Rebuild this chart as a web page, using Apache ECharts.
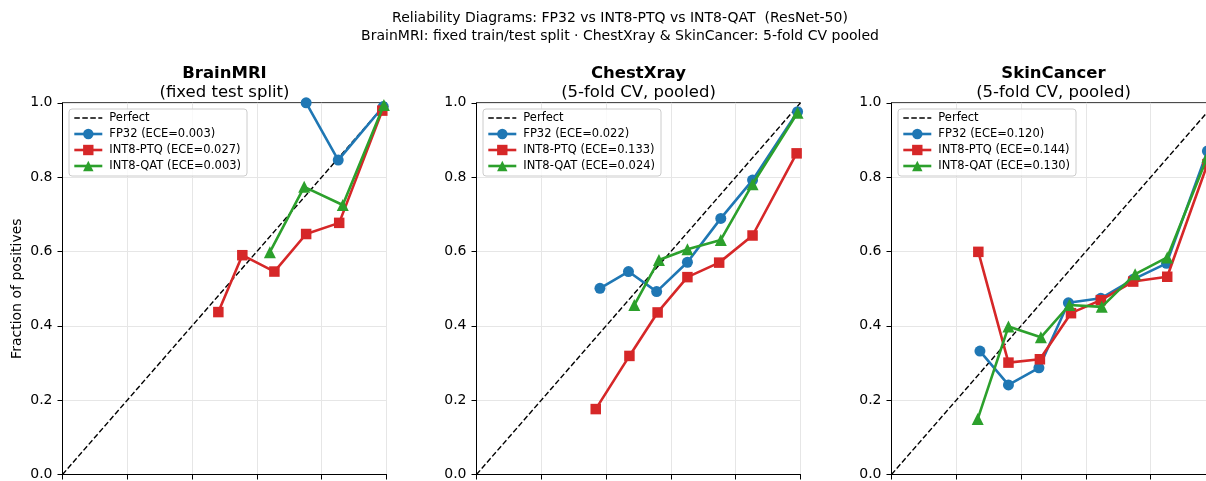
<!DOCTYPE html>
<html><head><meta charset="utf-8">
<script src="https://cdn.jsdelivr.net/npm/echarts@6/dist/echarts.min.js"></script>
<style>html,body{margin:0;padding:0;background:#fff}#c{width:1206px;height:481px}</style>
</head><body><div id="c"></div>
<script>
// ---- data ----
const panelNames = ['BrainMRI', 'ChestXray', 'SkinCancer'];
const panelSubtitles = ['(fixed test split)', '(5-fold CV, pooled)', '(5-fold CV, pooled)'];
const eceFP32 = ['0.003', '0.022', '0.120'];
const ecePTQ = ['0.027', '0.133', '0.144'];
const eceQAT = ['0.003', '0.024', '0.130'];
const perfect = [[0, 0], [1, 1]];
const axisTicks = [0, 0.2, 0.4, 0.6, 0.8, 1.0];

const brainFP32 = [[0.752, 1.000], [0.851, 0.846], [0.990, 0.990]];
const brainPTQ  = [[0.481, 0.437], [0.555, 0.590], [0.654, 0.546], [0.752, 0.647], [0.854, 0.677], [0.987, 0.979]];
const brainQAT  = [[0.640, 0.598], [0.746, 0.774], [0.865, 0.725], [0.992, 0.994]];

const chestFP32 = [[0.381, 0.501], [0.469, 0.546], [0.556, 0.492], [0.651, 0.571], [0.754, 0.689], [0.852, 0.792], [0.991, 0.976]];
const chestPTQ  = [[0.368, 0.176], [0.472, 0.319], [0.559, 0.436], [0.651, 0.531], [0.749, 0.570], [0.852, 0.643], [0.988, 0.864]];
const chestQAT  = [[0.487, 0.456], [0.563, 0.577], [0.651, 0.606], [0.754, 0.631], [0.852, 0.781], [0.991, 0.973]];

const skinFP32 = [[0.273, 0.332], [0.361, 0.241], [0.455, 0.287], [0.546, 0.462], [0.646, 0.474], [0.746, 0.525], [0.849, 0.568], [0.975, 0.870]];
const skinPTQ  = [[0.268, 0.599], [0.361, 0.301], [0.458, 0.310], [0.554, 0.434], [0.646, 0.469], [0.746, 0.519], [0.851, 0.532], [0.975, 0.835]];
const skinQAT  = [[0.266, 0.149], [0.361, 0.398], [0.461, 0.369], [0.549, 0.456], [0.649, 0.451], [0.752, 0.539], [0.851, 0.584], [0.975, 0.855]];

const fp32Data = [brainFP32, chestFP32, skinFP32];
const ptqData = [brainPTQ, chestPTQ, skinPTQ];
const qatData = [brainQAT, chestQAT, skinQAT];

// ---- layout / style ----
const FONT = 'DejaVu Sans';
const gridLefts = [62.5, 476.5, 891.5];
const GW = 324, GT = 102.8, GH = 371.7;
const C_BLUE = '#1f77b4', C_RED = '#d62728', C_GREEN = '#2ca02c';
const LW = 2.6;

const chart = echarts.init(document.getElementById('c'), null, {renderer: 'canvas'});

const titles = [{
  text: 'Reliability Diagrams: FP32 vs INT8-PTQ vs INT8-QAT  (ResNet-50)\nBrainMRI: fixed train/test split \u00b7 ChestXray & SkinCancer: 5-fold CV pooled',
  left: 620, top: 9, textAlign: 'center', padding: 0,
  textStyle: {fontFamily: FONT, fontSize: 14, fontWeight: 'normal', color: '#000', lineHeight: 18}
}];
const grids = [], xAxes = [], yAxes = [], series = [], legends = [];

panelNames.forEach((name, i) => {
  const L = gridLefts[i];
  titles.push({
    text: '{b|' + name + '}\n{n|' + panelSubtitles[i] + '}',
    left: L + GW / 2, top: 64, textAlign: 'center', padding: 0,
    textStyle: {
      fontFamily: FONT, color: '#000',
      rich: {
        b: {fontFamily: FONT, fontSize: 16.5, fontWeight: 'bold', color: '#000', lineHeight: 19},
        n: {fontFamily: FONT, fontSize: 16.5, fontWeight: 'normal', color: '#000', lineHeight: 19}
      }
    }
  });
  grids.push({left: L, top: GT, width: GW, height: GH, show: true, borderColor: '#000', borderWidth: 1,
    backgroundColor: 'transparent', outerBoundsMode: 'none', containLabel: false});
  xAxes.push({
    type: 'value', gridIndex: i, min: axisTicks[0], max: axisTicks[axisTicks.length - 1], interval: 0.2,
    axisLine: {show: true, lineStyle: {color: '#000', width: 1}},
    axisTick: {show: true, inside: false, length: 5, lineStyle: {color: '#000', width: 1}},
    axisLabel: {show: false},
    splitLine: {show: true, lineStyle: {color: '#e6e6e6', width: 1}}
  });
  yAxes.push({
    type: 'value', gridIndex: i, min: axisTicks[0], max: axisTicks[axisTicks.length - 1], interval: 0.2,
    name: i === 0 ? 'Fraction of positives' : '',
    nameLocation: 'middle', nameGap: 38,
    nameTextStyle: {fontFamily: FONT, fontSize: 14, color: '#000'},
    axisLine: {show: true, lineStyle: {color: '#000', width: 1}},
    axisTick: {show: true, inside: false, length: 5, lineStyle: {color: '#000', width: 1}},
    axisLabel: {show: true, margin: 10, fontFamily: FONT, fontSize: 14, color: '#000', formatter: v => v.toFixed(1)},
    splitLine: {show: true, lineStyle: {color: '#e6e6e6', width: 1}}
  });
  const nF = 'FP32 (ECE=' + eceFP32[i] + ')';
  const nP = 'INT8-PTQ (ECE=' + ecePTQ[i] + ')';
  const nQ = 'INT8-QAT (ECE=' + eceQAT[i] + ')';
  series.push({
    type: 'line', name: 'Perfect', xAxisIndex: i, yAxisIndex: i, data: perfect,
    symbol: 'none', silent: true, z: 1,
    lineStyle: {color: '#000', width: 1.4, type: [5.5, 2.5]}, itemStyle: {color: '#000'}
  });
  series.push({
    type: 'line', name: nF, xAxisIndex: i, yAxisIndex: i, data: fp32Data[i],
    symbol: 'circle', symbolSize: 11, z: 2,
    lineStyle: {color: C_BLUE, width: LW}, itemStyle: {color: C_BLUE}
  });
  series.push({
    type: 'line', name: nP, xAxisIndex: i, yAxisIndex: i, data: ptqData[i],
    symbol: 'rect', symbolSize: 10.5, z: 3,
    lineStyle: {color: C_RED, width: LW}, itemStyle: {color: C_RED}
  });
  series.push({
    type: 'line', name: nQ, xAxisIndex: i, yAxisIndex: i, data: qatData[i],
    symbol: 'triangle', symbolSize: 12, z: 4,
    lineStyle: {color: C_GREEN, width: LW}, itemStyle: {color: C_GREEN}
  });
  legends.push({
    left: L + 6.5, top: 109, orient: 'vertical', selectedMode: false,
    data: [{name: 'Perfect', itemStyle: {opacity: 0}}, nF, nP, nQ],
    itemWidth: 28, itemHeight: 13, itemGap: 4, padding: [3, 6, 4, 4],
    lineStyle: {width: 'inherit'},
    backgroundColor: 'rgba(255,255,255,0.8)', borderColor: '#cccccc', borderWidth: 1, borderRadius: 3,
    textStyle: {fontFamily: FONT, fontSize: 11.5, color: '#000', padding: [0, 0, 0, 2]}
  });
});

chart.setOption({
  animation: false,
  backgroundColor: '#fff',
  title: titles,
  grid: grids,
  xAxis: xAxes,
  yAxis: yAxes,
  legend: legends,
  series: series
});
</script>
</body></html>
